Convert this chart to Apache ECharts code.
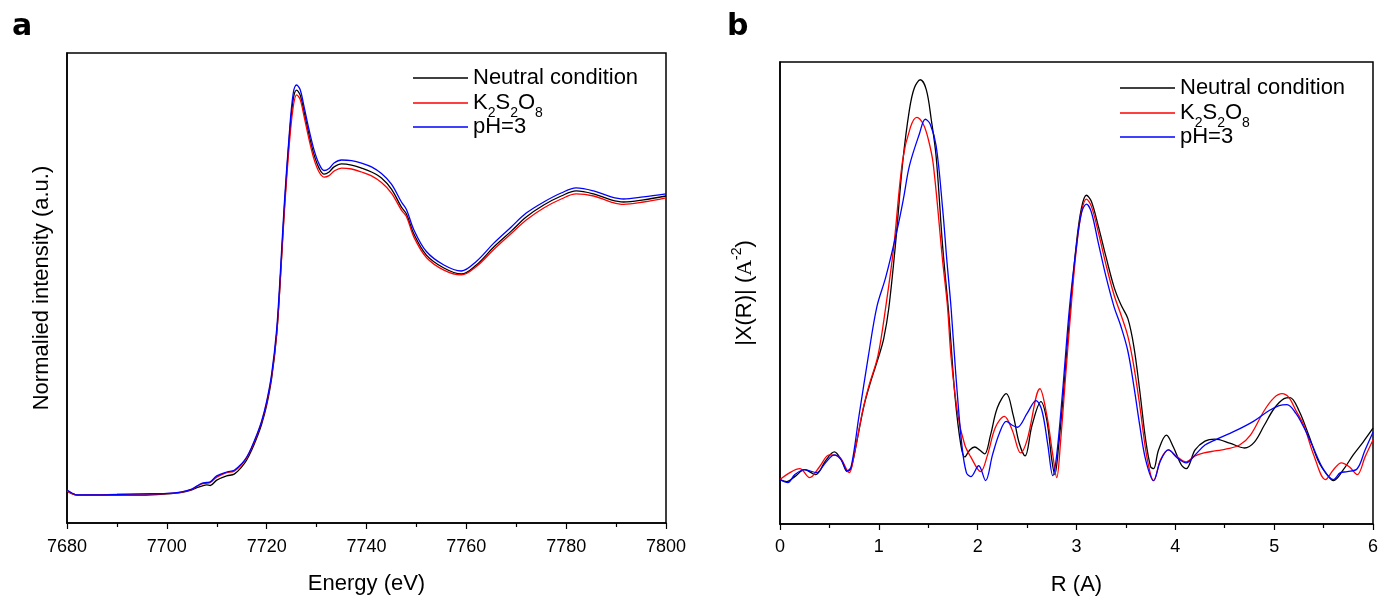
<!DOCTYPE html>
<html><head><meta charset="utf-8">
<script src="https://cdn.jsdelivr.net/npm/echarts@6/dist/echarts.min.js"></script>
<style>html,body{margin:0;padding:0;background:#fff}#c{width:1381px;height:601px}</style>
</head><body><div id="c"></div>
<script>
// ---- Panel a: XANES ----
const energyA = [7680,7681,7682,7686,7690,7695,7700,7703,7705,7706,7707,7708,7708.7,7710,7712,7713.5,7715,7716,7717,7718,7719,7720,7721,7722,7722.7,7723.5,7724.5,7725.3,7726,7726.7,7727.5,7728.5,7729.5,7730.5,7731.5,7732.5,7733.5,7735,7737,7739,7741,7743,7745,7747,7748,7749.5,7752,7755.5,7759,7762,7765.5,7769,7772,7775.5,7779,7782,7785.5,7789,7791.5,7795.5,7800];
const neutralA = [0.007,-0.002,-0.007,-0.007,-0.007,-0.007,-0.003,0.002,0.010,0.018,0.023,0.027,0.025,0.043,0.057,0.063,0.087,0.110,0.143,0.183,0.230,0.293,0.383,0.527,0.703,0.937,1.177,1.310,1.343,1.327,1.270,1.193,1.127,1.083,1.063,1.070,1.087,1.097,1.093,1.083,1.070,1.050,1.013,0.953,0.930,0.863,0.793,0.750,0.730,0.760,0.820,0.873,0.920,0.960,0.990,1.007,0.997,0.977,0.970,0.977,0.990];
const k2s2o8A = [0.007,-0.002,-0.007,-0.006,-0.005,-0.004,-0.002,0.003,0.012,0.022,0.030,0.033,0.035,0.053,0.068,0.073,0.095,0.117,0.150,0.190,0.237,0.300,0.390,0.530,0.700,0.925,1.155,1.285,1.327,1.312,1.255,1.178,1.112,1.070,1.053,1.058,1.073,1.083,1.080,1.070,1.057,1.035,1.000,0.943,0.922,0.853,0.785,0.743,0.727,0.755,0.812,0.865,0.910,0.950,0.980,0.997,0.990,0.970,0.962,0.970,0.984];
const ph3A = [0.010,0.000,-0.006,-0.006,-0.005,-0.003,-0.001,0.004,0.013,0.023,0.032,0.035,0.037,0.057,0.070,0.076,0.098,0.120,0.153,0.193,0.240,0.305,0.397,0.545,0.723,0.955,1.190,1.330,1.360,1.345,1.287,1.210,1.143,1.097,1.075,1.082,1.100,1.110,1.108,1.100,1.087,1.065,1.030,0.970,0.945,0.877,0.805,0.760,0.740,0.772,0.833,0.887,0.933,0.970,1.000,1.017,1.007,0.987,0.980,0.987,0.997];

// ---- Panel b: FT-EXAFS ----
const rNeutral = [0,0.07,0.15,0.25,0.36,0.46,0.55,0.62,0.68,0.72,0.78,0.85,0.92,1.0,1.05,1.1,1.17,1.24,1.31,1.36,1.42,1.48,1.53,1.58,1.645,1.71,1.77,1.83,1.87,1.92,1.97,2.02,2.07,2.13,2.2,2.29,2.36,2.42,2.48,2.55,2.64,2.7,2.75,2.78,2.82,2.87,2.93,3.0,3.05,3.1,3.15,3.22,3.3,3.38,3.45,3.52,3.58,3.64,3.7,3.75,3.78,3.83,3.91,3.98,4.06,4.11,4.2,4.3,4.4,4.55,4.7,4.8,4.9,5.0,5.1,5.16,5.25,5.35,5.45,5.55,5.6,5.7,5.8,5.9,6.0];
const xrNeutral = [0.45,0.43,0.48,0.55,0.50,0.64,0.73,0.65,0.53,0.57,0.85,1.20,1.45,1.70,1.88,2.18,2.85,3.65,4.20,4.42,4.50,4.40,4.10,3.72,2.82,2.10,1.30,0.80,0.68,0.75,0.78,0.75,0.71,0.90,1.18,1.32,1.10,0.82,0.69,1.00,1.24,1.05,0.65,0.50,0.80,1.35,2.10,2.85,3.20,3.33,3.27,3.02,2.70,2.40,2.22,2.08,1.80,1.35,0.85,0.58,0.56,0.75,0.90,0.78,0.60,0.56,0.75,0.84,0.86,0.82,0.77,0.83,1.00,1.17,1.27,1.28,1.15,0.90,0.63,0.48,0.44,0.55,0.70,0.83,0.97];
const rK2 = [0,0.1,0.2,0.3,0.4,0.5,0.6,0.7,0.75,0.835,0.9,0.99,1.07,1.15,1.24,1.32,1.385,1.45,1.5,1.55,1.645,1.695,1.73,1.8,1.87,1.93,2.03,2.1,2.18,2.27,2.35,2.435,2.5,2.63,2.7,2.76,2.8,2.84,2.89,2.95,3.0,3.05,3.1,3.15,3.22,3.3,3.38,3.45,3.52,3.58,3.64,3.7,3.75,3.78,3.85,3.93,4.02,4.11,4.2,4.29,4.4,4.52,4.65,4.76,4.9,5.0,5.08,5.15,5.22,5.3,5.4,5.52,5.6,5.68,5.76,5.84,5.92,6.0];
const xrK2 = [0.45,0.52,0.56,0.47,0.58,0.70,0.68,0.52,0.70,1.14,1.40,1.70,2.20,2.80,3.68,4.02,4.12,4.05,3.90,3.65,2.67,2.20,1.70,1.10,0.80,0.68,0.53,0.70,0.98,1.09,0.95,0.72,0.85,1.37,1.10,0.70,0.47,0.85,1.50,2.25,2.80,3.16,3.29,3.22,2.96,2.62,2.32,2.12,1.90,1.60,1.20,0.75,0.50,0.44,0.65,0.75,0.68,0.63,0.69,0.72,0.74,0.76,0.80,0.90,1.15,1.28,1.32,1.28,1.15,1.00,0.70,0.45,0.55,0.62,0.58,0.50,0.68,0.85];
const rPH3 = [0,0.08,0.15,0.25,0.37,0.46,0.55,0.62,0.68,0.72,0.8,0.894,0.98,1.07,1.185,1.25,1.31,1.41,1.47,1.52,1.58,1.645,1.69,1.73,1.78,1.84,1.886,1.93,2.01,2.08,2.15,2.22,2.29,2.35,2.4,2.5,2.59,2.65,2.71,2.76,2.8,2.86,2.93,3.0,3.05,3.1,3.15,3.22,3.3,3.38,3.45,3.52,3.58,3.64,3.7,3.78,3.85,3.93,4.02,4.11,4.2,4.3,4.4,4.6,4.79,4.95,5.05,5.13,5.22,5.3,5.38,5.5,5.6,5.67,5.74,5.84,5.92,6.0];
const xrPH3 = [0.45,0.42,0.50,0.55,0.52,0.62,0.70,0.65,0.54,0.58,1.10,1.70,2.20,2.50,2.98,3.30,3.63,3.95,4.10,4.05,3.83,3.20,2.65,2.20,1.50,0.80,0.52,0.48,0.59,0.44,0.70,0.92,1.04,1.00,0.98,1.12,1.25,1.15,0.80,0.49,0.70,1.35,2.20,2.82,3.15,3.24,3.16,2.85,2.50,2.20,2.00,1.75,1.40,1.00,0.65,0.44,0.64,0.75,0.67,0.62,0.70,0.80,0.85,0.94,1.04,1.15,1.20,1.21,1.12,0.98,0.81,0.55,0.45,0.52,0.53,0.56,0.75,0.93];

const seriesNames = ['Neutral condition', 'K2S2O8', 'pH=3'];
const seriesColors = ['#000000', '#ff0000', '#0000ff'];
const tickA = {min: 7680, max: 7800, interval: 20};
const tickB = {min: 0, max: 6, interval: 1};

const FONT = 'Liberation Sans, Arial, sans-serif';
const zip = (xs, ys) => xs.map((x, i) => [x, ys[i]]);

const chart = echarts.init(document.getElementById('c'), null, {renderer: 'canvas'});

const legendRich = {
  n: {fontSize: 22, lineHeight: 24, fontFamily: FONT, color: '#000'},
  s: {fontSize: 14, lineHeight: 14, fontFamily: FONT, color: '#000', verticalAlign: 'top', padding: [15, 0, 0, 0]}
};
function legendFmt(name) {
  if (name === 'K2S2O8') return '{n|K}{s|2}{n|S}{s|2}{n|O}{s|8}';
  return '{n|' + name + '}';
}
function makeLegend(name, left, top) {
  return {
    data: [name], left: left, top: top, padding: 0,
    icon: 'rect', itemWidth: 55, itemHeight: 1.4,
    selectedMode: false, formatter: legendFmt,
    textStyle: {fontSize: 22, fontFamily: FONT, color: '#000', lineHeight: 24, rich: legendRich}
  };
}

function xAxisCfg(grid, t, name, margin) {
  return {
    type: 'value', gridIndex: grid, min: t.min, max: t.max, interval: t.interval,
    name: name, nameLocation: 'middle', nameGap: 50,
    nameTextStyle: {fontSize: 22, fontFamily: FONT, color: '#000'},
    axisLine: {onZero: false, lineStyle: {color: '#000', width: 1.5}},
    axisTick: {show: true, length: 6, lineStyle: {color: '#000', width: 1.2}},
    minorTick: {show: true, splitNumber: 2, length: 4, lineStyle: {color: '#000', width: 1.2}},
    axisLabel: {fontSize: 18, fontFamily: FONT, color: '#000', margin: margin, formatter: v => String(v)},
    splitLine: {show: false}
  };
}
function yAxisCfg(grid, min, max, name, gap, rich) {
  return {
    type: 'value', gridIndex: grid, min: min, max: max,
    name: name, nameLocation: 'middle', nameGap: gap, nameRotate: 90,
    nameTextStyle: {fontSize: 22, fontFamily: FONT, color: '#000', rich: rich},
    axisLine: {show: true, onZero: false, lineStyle: {color: '#000', width: 1.5}},
    axisTick: {show: false}, axisLabel: {show: false}, splitLine: {show: false}
  };
}

function lineSeries(name, color, data, xi) {
  return {
    name: name, type: 'line', xAxisIndex: xi, yAxisIndex: xi, data: data,
    showSymbol: false, symbol: 'none', smooth: 0.35,
    lineStyle: {color: color, width: 1.3}, itemStyle: {color: color},
    animation: false, silent: true
  };
}

const yNameRichB = {
  n: {fontSize: 22, lineHeight: 30, fontFamily: FONT, color: '#000'},
  a: {fontSize: 22, lineHeight: 30, fontFamily: 'Liberation Serif, serif', color: '#000'},
  sup: {fontSize: 14, lineHeight: 14, fontFamily: FONT, color: '#000', verticalAlign: 'top'}
};

const option = {
  backgroundColor: '#fff',
  animation: false,
  title: [
    {text: 'a', left: 7, top: 7, textStyle: {fontFamily: 'DejaVu Sans', fontWeight: 'bold', fontSize: 30, color: '#000'}},
    {text: 'b', left: 722, top: 7, textStyle: {fontFamily: 'DejaVu Sans', fontWeight: 'bold', fontSize: 30, color: '#000'}}
  ],
  grid: [
    {left: 67, right: 715, top: 53, bottom: 78, show: true, borderColor: '#000', borderWidth: 1.5, backgroundColor: 'transparent'},
    {left: 780, right: 5, top: 62, bottom: 71, show: true, borderColor: '#000', borderWidth: 1.5, backgroundColor: 'transparent'}
  ],
  legend: [
    makeLegend(seriesNames[0], 413, 66),
    makeLegend(seriesNames[1], 413, 91),
    makeLegend(seriesNames[2], 413, 115),
    makeLegend(seriesNames[0], 1120, 76),
    makeLegend(seriesNames[1], 1120, 101),
    makeLegend(seriesNames[2], 1120, 125)
  ],
  xAxis: [
    xAxisCfg(0, tickA, 'Energy (eV)', 15),
    xAxisCfg(1, tickB, 'R (A)', 14)
  ],
  yAxis: [
    yAxisCfg(0, -0.1, 1.4667, 'Normalied intensity (a.u.)', 14),
    yAxisCfg(1, 0, 4.68, '{n||X(R)| (}{a|A}{sup|-2}{n|)}', 20, yNameRichB)
  ],
  series: [
    lineSeries(seriesNames[0], seriesColors[0], zip(energyA, neutralA), 0),
    lineSeries(seriesNames[1], seriesColors[1], zip(energyA, k2s2o8A), 0),
    lineSeries(seriesNames[2], seriesColors[2], zip(energyA, ph3A), 0),
    lineSeries(seriesNames[0], seriesColors[0], zip(rNeutral, xrNeutral), 1),
    lineSeries(seriesNames[1], seriesColors[1], zip(rK2, xrK2), 1),
    lineSeries(seriesNames[2], seriesColors[2], zip(rPH3, xrPH3), 1)
  ]
};
chart.setOption(option);
</script>
</body></html>
